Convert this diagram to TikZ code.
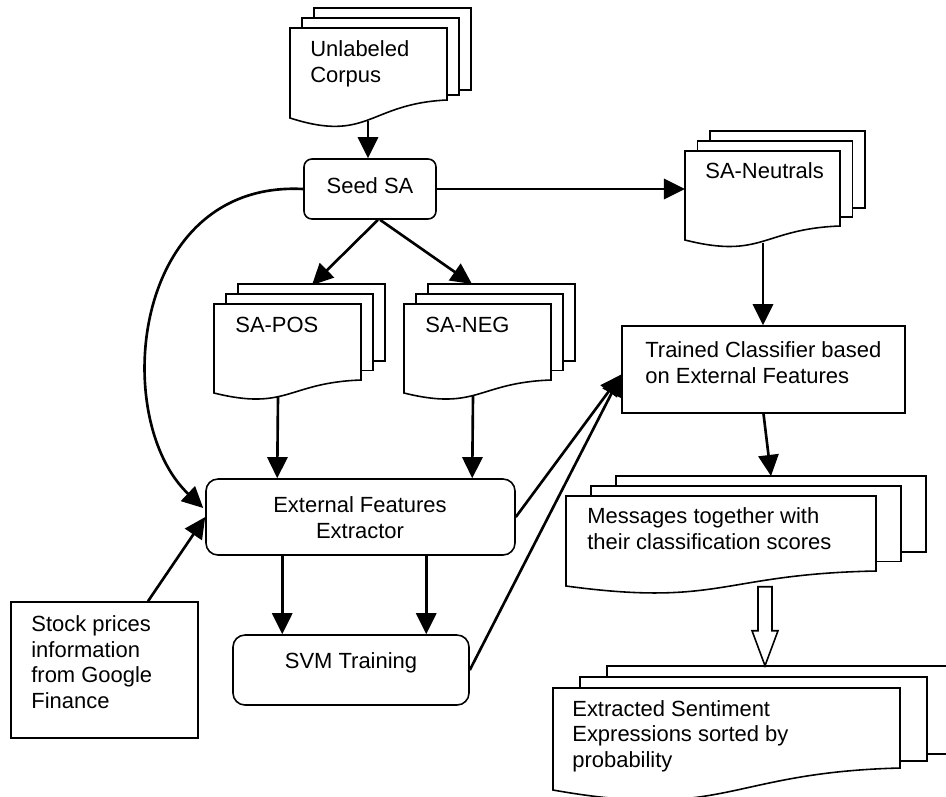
\documentclass[tikz,border=0pt]{standalone}
\usepackage{fontspec}
\setmainfont{Liberation Sans}
\usetikzlibrary{arrows.meta,calc}
\newcommand\pxu{0.02cm}
% multi-document shape: #1 name, #2 x0, #3 y0, #4 width, #5 left height, #6 dx, #7 dy, #8 wave rise, #9 back-bottom shift
\newcommand\mdoc[9]{%
  \draw[docline] ({#2+2*#6},{#3-2*#7}) rectangle ({#2+#4+2*#6},{#3+#5-#8-2*#9});
  \draw[docline] ({#2+#6},{#3-#7}) rectangle ({#2+#4+#6},{#3+#5-#8-#9});
  \draw[docline] (#2,#3) -- ({#2+#4},#3) -- ({#2+#4},{#3+#5-#8})
     .. controls ({#2+0.5*#4},{#3+#5-0.8*#8}) and ({#2+0.5*#4},{#3+#5+1.4*#8}) .. (#2,{#3+#5}) -- cycle;
  \node[inner sep=0, minimum width={#4*\pxu}, minimum height={#5*\pxu}, anchor=north west] (#1) at (#2,#3) {};
}
\begin{document}
\begin{tikzpicture}[x=0.02cm,y=-0.02cm,
  font=\fontsize{12.5pt}{14.5pt}\selectfont,
  docline/.style={draw=black, fill=white, line width=0.9pt},
  rbox/.style={draw=black, line width=0.9pt, rounded corners=#1, inner sep=0},
  sbox/.style={draw=black, line width=0.9pt, inner sep=0},
  lbl/.style={inner sep=0, anchor=base west, align=left},
  clbl/.style={inner sep=0, anchor=base, align=center},
  conn/.style={line width=1.5pt, -{Triangle[length=12pt,width=11.5pt]}},
  hollow/.style={draw=black, fill=white, line width=0.9pt},
]
\useasboundingbox (0,0) rectangle (946,796);
\clip (0,0) rectangle (946,796);

% documents
\mdoc{corpus}{290}{28}{157}{90}{12}{10}{18}{5}
\mdoc{sapos}{214}{304}{147}{89}{12}{10}{13}{9.5}
\mdoc{saneg}{404}{304}{147}{89}{12}{10}{13}{9.5}
\mdoc{saneu}{685}{151}{155}{89}{12.5}{10}{14}{9}
\mdoc{msgs}{566}{496}{310}{90}{25}{10}{15}{9.5}
\mdoc{sent}{553}{688}{347}{102}{27}{11}{22}{7}

% boxes
\node[rbox=4.5pt, minimum width=132*\pxu, minimum height=60*\pxu] (seed) at (370,189) {};
\node[rbox=6.8pt, minimum width=309*\pxu, minimum height=76*\pxu] (feat) at (360.5,517) {};
\node[rbox=6.8pt, minimum width=236*\pxu, minimum height=70*\pxu] (svm) at (351,670) {};
\node[sbox, minimum width=283*\pxu, minimum height=87*\pxu] (trained) at (763.5,369.5) {};
\node[sbox, minimum width=187*\pxu, minimum height=136*\pxu] (stock) at (104.5,670) {};

% texts (anchor = baseline of the last line)
\node[clbl] (seed-t) at (370,193) {Seed SA};
\node[clbl] (feat-t) at (360,538) {External Features\\Extractor};
\node[clbl] (svm-t) at (351,668) {SVM Training};
\node[lbl] (trained-t) at (645,383) {Trained Classifier based\\on External Features};
\node[lbl] (stock-t) at (31,708) {Stock prices\\information\\from Google\\Finance};
\node[lbl] (corpus-t) at (310,82) {Unlabeled\\Corpus};
\node[lbl] (sapos-t) at (235,332) {SA-POS};
\node[lbl] (saneg-t) at (425,332) {SA-NEG};
\node[lbl] (saneu-t) at (705,178) {SA-Neutrals};
\node[lbl] (msgs-t) at (587,549) {Messages together with\\their classification scores};
\node[lbl] (sent-t) at (572,767) {Extracted Sentiment\\Expressions sorted by\\probability};

% connectors
\draw[conn] ($(corpus.south west)+(78,2)$) -- ($(seed.north)+(-2,0)$);
\draw[conn] ($(seed.south)+(8,0)$) -- ($(sapos.north west)+(98,-19)$);
\draw[conn] ($(seed.south)+(10,0)$) -- ($(saneg.north west)+(68,-20)$);
\draw[conn] (seed.east) -- (seed.east -| saneu.west);
\draw[conn] (seed.west) .. controls (130,180) and (110,420) .. ($(feat.west)+(-2,-9)$);
\draw[conn] ($(stock.north)+(43.5,0)$) -- (feat.west);
\draw[conn] ($(sapos.south west)+(64,3)$) -- ($(feat.north west)+(72,0)$);
\draw[conn] ($(saneg.south west)+(69,2)$) -- ($(feat.north west)+(267,0)$);
\draw[conn] ($(feat.south west)+(77,0)$) -- ($(svm.north west)+(50,0)$);
\draw[conn] ($(feat.south west)+(221,0)$) -- ($(svm.north west)+(194,0)$);
\draw[conn] (feat.east) -- ($(trained.west)+(0,5)$);
\draw[conn] (svm.east) -- ($(trained.west)+(0,5)$);
\draw[conn] ($(saneu.south west)+(78,2)$) -- ($(trained.north)+(-0.5,0)$);
\draw[conn] (trained.south) -- ($(msgs.north west)+(205,-20)$);
\coordinate (ha) at ($(msgs.south west)+(199,0)$);
\draw[hollow] ($(ha)+(-7,0)$) -- ($(ha)+(7,0)$) -- ($(ha)+(7,44)$) -- ($(ha)+(13,44)$)
   -- ($(ha)+(0,79)$) -- ($(ha)+(-13,44)$) -- ($(ha)+(-7,44)$) -- cycle;
\end{tikzpicture}
\end{document}
